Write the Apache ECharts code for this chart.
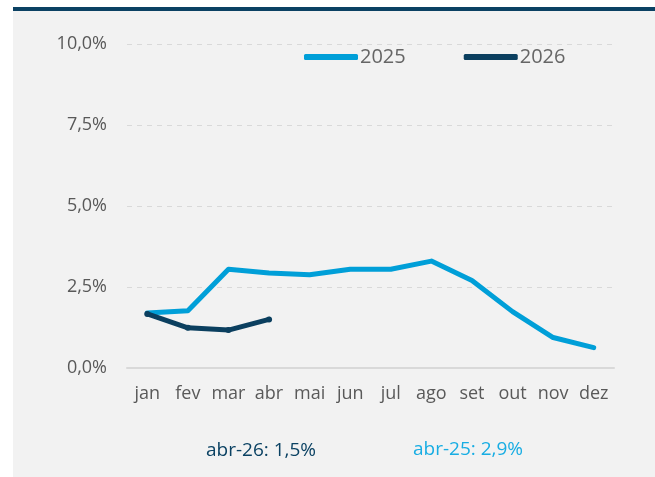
<!DOCTYPE html>
<html><head><meta charset="utf-8">
<script src="https://cdn.jsdelivr.net/npm/echarts@6/dist/echarts.min.js"></script>
<style>html,body{margin:0;padding:0;background:#fff}#c{width:655px;height:477px}</style>
</head><body><div id="c"></div>
<script>
const months = ['jan','fev','mar','abr','mai','jun','jul','ago','set','out','nov','dez'];
const s2025 = [1.70, 1.77, 3.05, 2.93, 2.88, 3.05, 3.05, 3.30, 2.70, 1.74, 0.94, 0.63];
const s2026 = [1.67, 1.24, 1.17, 1.50];
const yTicks = [0, 2.5, 5, 7.5, 10];
const note26 = 'abr-26: 1,5%';
const note25 = 'abr-25: 2,9%';
const FONT = '"Open Sans"';
const chart = echarts.init(document.getElementById('c'));
chart.setOption({
  animation: false,
  backgroundColor: '#ffffff',
  graphic: [
    {type:'rect', shape:{x:13,y:11,width:642,height:466}, style:{fill:'#f2f2f2'}, z:-10},
    {type:'rect', shape:{x:13,y:7,width:642,height:4}, style:{fill:'#0b4163'}, z:-10}
  ],
  title: [
    {text: note26, left: 256, top: 436, textAlign:'center', textStyle:{color:'#0b4263', fontFamily:FONT, fontSize:19, fontWeight:500}},
    {text: note25, left: 463, top: 435, textAlign:'center', textStyle:{color:'#18ade3', fontFamily:FONT, fontSize:19, fontWeight:500}}
  ],
  legend: {
    left: 299, top: 42, itemGap: 58, itemWidth: 54, itemHeight: 6,
    textStyle: {color:'#666666', fontFamily:FONT, fontSize:20, padding:[2,0,0,-3]},
    data: [
      {name:'2025', icon:'roundRect'},
      {name:'2026', icon:'roundRect'}
    ]
  },
  grid: {left:127, right:41, top:44, bottom:109},
  xAxis: {
    type:'category', data: months, boundaryGap: true,
    axisLine:{lineStyle:{color:'#d9d9d9', width:2}},
    axisTick:{show:false},
    axisLabel:{color:'#595959', fontFamily:FONT, fontSize:18, margin:17, interval:0}
  },
  yAxis: {
    type:'value', min: yTicks[0], max: yTicks[yTicks.length-1], interval: 2.5,
    axisLine:{show:false}, axisTick:{show:false},
    splitLine:{lineStyle:{color:'#d9d9d9', type:[5,5], width:1}},
    axisLabel:{color:'#595959', fontFamily:FONT, fontSize:18, margin:20,
      formatter: v => v.toFixed(1).replace('.', ',') + '%'}
  },
  series: [
    {name:'2025', type:'line', data:s2025, symbol:'none', z:2,
     lineStyle:{color:'#009fd8', width:5, cap:'round', join:'round'}, itemStyle:{color:'#009fd8'}},
    {name:'2026', type:'line', data:s2026, symbol:'circle', symbolSize:6, z:3,
     lineStyle:{color:'#0b3f5f', width:5, cap:'round', join:'round'}, itemStyle:{color:'#0b3f5f'}}
  ]
});
</script></body></html>
